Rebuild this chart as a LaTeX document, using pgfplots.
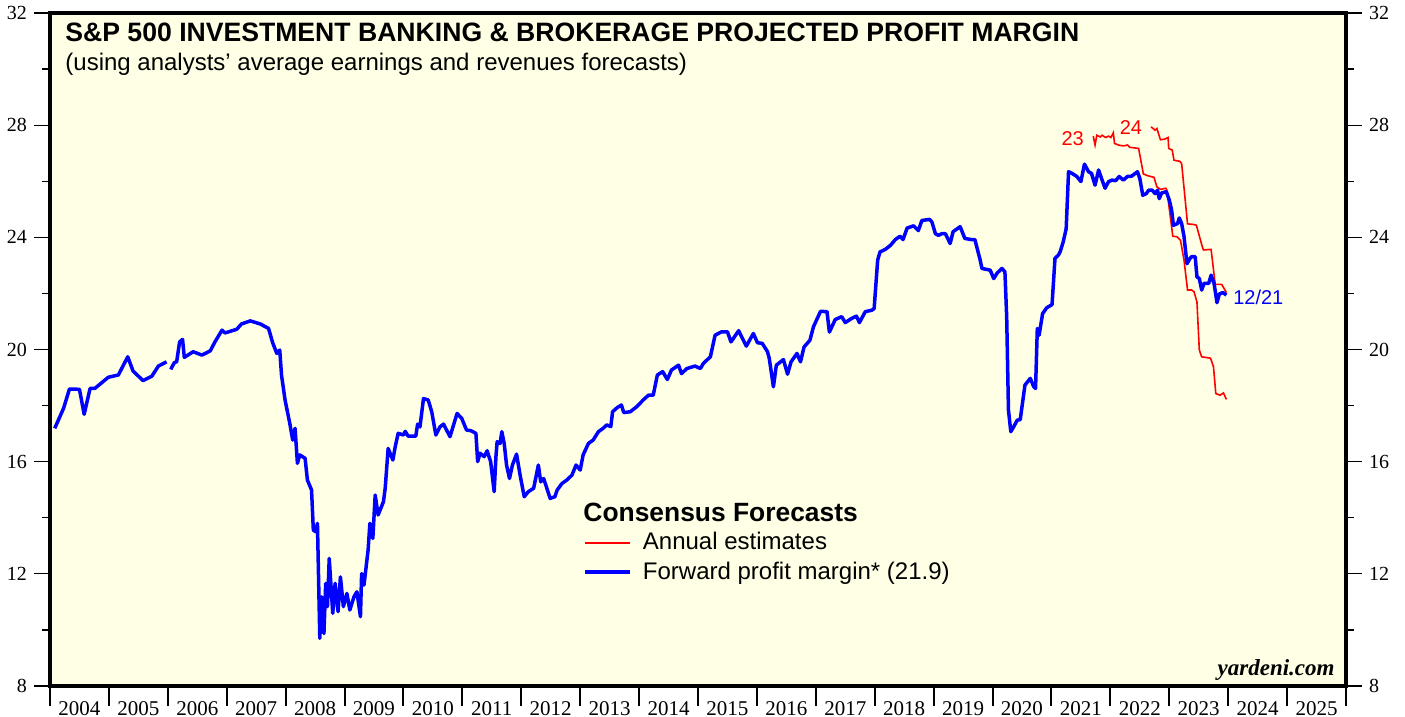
\documentclass[border=0pt]{standalone}
\usepackage{fontspec}
\setmainfont{Liberation Sans}
\newfontfamily\serif{Liberation Serif}
\usepackage{pgfplots}
\pgfplotsset{compat=1.18}
\definecolor{bgyellow}{RGB}{255,255,229}
\definecolor{fwdblue}{RGB}{0,0,255}
\definecolor{annred}{RGB}{255,0,0}

\pgfplotsset{
  frame/.style={
    scale only axis, width=648pt, height=336.5pt,
    at={(0,0)}, anchor=south west,
    xmin=2004, xmax=2026, ymin=8, ymax=32,
    axis line style={line width=1.6pt, black},
  },
  side/.style={
    frame, hide x axis,
    ytick={8,12,...,32}, minor y tick num=1,
    tick align=outside,
    major tick length=8pt, minor tick length=4pt,
    tick style={line width=0.6pt, black},
    /pgf/number format/assume math mode=true,
    yticklabel style={font=\fontsize{10}{12}\selectfont\serif},
  },
}

\begin{document}
\begin{tikzpicture}
\path[use as bounding box] (-25pt,-15.5pt) rectangle (677.5pt,343pt);

\begin{axis}[frame,
  axis background/.style={fill=bgyellow},
  ytick=\empty,
  xtick={2004,2005,...,2026},
  x tick label as interval,
  xticklabels={2004,2005,2006,2007,2008,2009,2010,2011,2012,2013,2014,2015,2016,2017,2018,2019,2020,2021,2022,2023,2024,2025},
  xtick pos=bottom, tick align=outside,
  major tick length=10pt,
  xtick style={line width=1pt, black},
  xticklabel style={font=\fontsize{10.5}{12}\selectfont\serif, yshift=6pt},
  legend style={at={(rel axis cs:0.4113,0.2345)}, anchor=north west,
    draw=none, fill=none, inner sep=0pt,
    font=\fontsize{12}{14}\selectfont, row sep=0.5pt, column sep=3.5pt,
    nodes={inner sep=2pt}},
  legend cell align=left,
  legend image code/.code={\draw[#1] (0pt,0pt) -- (22.5pt,0pt);},
]

% forward profit margin, 2004-2005 (before the break)
\addplot[fwdblue, line width=1.75pt, line join=round, forget plot] coordinates {
(2004.08,17.19) (2004.23,17.90) (2004.33,18.59) (2004.50,18.58) (2004.58,17.69)
(2004.68,18.61) (2004.76,18.61) (2004.99,19.01) (2005.16,19.09) (2005.32,19.74)
(2005.41,19.23) (2005.58,18.89) (2005.73,19.05) (2005.84,19.41) (2005.98,19.56)};

% annual estimates 2023
\addplot[annred, line width=0.8pt] coordinates {
(2021.71,27.61) (2021.74,27.29) (2021.77,27.64) (2021.83,27.58) (2021.86,27.64)
(2021.92,27.56) (2021.97,27.61) (2022.01,27.56) (2022.05,27.73) (2022.07,27.35)
(2022.14,27.29) (2022.22,27.26) (2022.29,27.29) (2022.33,27.21) (2022.48,27.17)
(2022.56,26.26) (2022.63,26.20) (2022.74,26.14) (2022.79,25.80) (2022.85,25.71)
(2022.94,25.75) (2022.96,25.68) (2023.06,24.04) (2023.13,24.02) (2023.19,23.90)
(2023.25,23.19) (2023.31,22.12) (2023.38,22.12) (2023.42,22.06) (2023.47,21.69)
(2023.51,19.98) (2023.55,19.74) (2023.70,19.69) (2023.75,19.39) (2023.79,18.43)
(2023.86,18.37) (2023.92,18.45) (2023.97,18.22)};
\addlegendentry{Annual estimates}

% annual estimates 2024
\addplot[annred, line width=0.8pt, forget plot] coordinates {
(2022.69,27.94) (2022.76,27.82) (2022.79,27.88) (2022.85,27.48) (2022.92,27.50)
(2022.98,27.56) (2022.99,27.17) (2023.05,27.11) (2023.08,26.75) (2023.18,26.71)
(2023.21,26.63) (2023.31,24.48) (2023.41,24.46) (2023.46,24.43) (2023.56,23.67)
(2023.58,23.55) (2023.71,23.57) (2023.78,22.32) (2023.89,22.32) (2023.97,22.03)};

% forward profit margin, 2006 onwards
\addplot[fwdblue, line width=1.75pt, line join=round] coordinates {
(2006.05,19.29) (2006.11,19.53) (2006.15,19.56) (2006.20,20.27) (2006.25,20.36)
(2006.28,19.72) (2006.43,19.92) (2006.58,19.80) (2006.72,19.95) (2006.80,20.27)
(2006.92,20.69) (2006.97,20.59) (2007.17,20.72) (2007.25,20.91) (2007.40,21.02)
(2007.57,20.91) (2007.71,20.75) (2007.78,20.24) (2007.85,19.86) (2007.90,19.98)
(2007.93,19.09) (2007.99,18.20) (2008.07,17.37) (2008.12,16.77) (2008.16,17.19)
(2008.20,15.94) (2008.24,16.24) (2008.33,16.12) (2008.37,15.34) (2008.44,14.99)
(2008.47,13.56) (2008.51,13.50) (2008.54,13.80) (2008.58,9.70) (2008.61,11.18)
(2008.65,9.87) (2008.68,11.66) (2008.71,10.83) (2008.74,12.55) (2008.80,10.59)
(2008.84,11.66) (2008.89,10.65) (2008.93,11.89) (2008.98,10.83) (2009.04,11.30)
(2009.09,10.71) (2009.16,11.18) (2009.21,11.36) (2009.27,10.47) (2009.29,12.01)
(2009.33,11.60) (2009.40,12.85) (2009.43,13.80) (2009.48,13.26) (2009.52,14.81)
(2009.57,14.10) (2009.66,14.57) (2009.69,15.05) (2009.74,16.47) (2009.82,16.06)
(2009.86,16.53) (2009.91,17.01) (2010.00,16.95) (2010.03,17.08) (2010.08,16.91)
(2010.21,16.91) (2010.24,17.34) (2010.28,17.24) (2010.34,18.25) (2010.42,18.20)
(2010.48,17.78) (2010.55,16.95) (2010.62,17.24) (2010.68,17.34) (2010.79,16.89)
(2010.91,17.72) (2010.99,17.54) (2011.07,17.13) (2011.15,17.10) (2011.23,17.01)
(2011.26,16.00) (2011.30,16.30) (2011.37,16.18) (2011.42,16.39) (2011.48,16.00)
(2011.54,14.93) (2011.57,16.18) (2011.59,16.71) (2011.64,16.65) (2011.67,17.07)
(2011.71,16.65) (2011.75,15.88) (2011.80,15.40) (2011.85,15.88) (2011.92,16.27)
(2011.98,15.52) (2012.05,14.75) (2012.12,14.93) (2012.21,15.05) (2012.29,15.88)
(2012.33,15.28) (2012.38,15.40) (2012.49,14.69) (2012.57,14.75) (2012.61,14.99)
(2012.69,15.22) (2012.77,15.34) (2012.86,15.52) (2012.93,15.88) (2013.00,15.70)
(2013.05,16.24) (2013.14,16.65) (2013.22,16.77) (2013.31,17.07) (2013.39,17.19)
(2013.45,17.31) (2013.52,17.25) (2013.55,17.78) (2013.63,17.93) (2013.70,18.02)
(2013.74,17.75) (2013.85,17.78) (2013.96,17.96) (2014.07,18.20) (2014.16,18.37)
(2014.24,18.37) (2014.31,19.09) (2014.40,19.21) (2014.48,18.93) (2014.55,19.27)
(2014.67,19.44) (2014.72,19.14) (2014.81,19.32) (2014.95,19.41) (2015.04,19.32)
(2015.09,19.50) (2015.21,19.74) (2015.29,20.51) (2015.40,20.63) (2015.50,20.63)
(2015.56,20.27) (2015.69,20.67) (2015.82,20.12) (2015.94,20.57) (2016.01,20.24)
(2016.09,20.22) (2016.18,19.92) (2016.21,19.68) (2016.28,18.67) (2016.33,19.44)
(2016.45,19.64) (2016.52,19.12) (2016.58,19.56) (2016.68,19.86) (2016.74,19.56)
(2016.80,20.09) (2016.90,20.33) (2016.96,20.81) (2017.08,21.36) (2017.19,21.35)
(2017.23,20.62) (2017.33,21.07) (2017.44,21.17) (2017.50,20.96) (2017.61,21.11)
(2017.69,21.19) (2017.74,20.96) (2017.84,21.35) (2017.95,21.40) (2017.99,21.46)
(2018.05,23.19) (2018.09,23.48) (2018.18,23.57) (2018.27,23.72) (2018.35,23.92)
(2018.43,24.04) (2018.48,23.92) (2018.55,24.33) (2018.66,24.41) (2018.74,24.24)
(2018.80,24.60) (2018.93,24.64) (2018.97,24.55) (2019.03,24.13) (2019.08,24.07)
(2019.14,24.13) (2019.20,24.13) (2019.28,23.78) (2019.33,24.20) (2019.45,24.38)
(2019.53,23.96) (2019.64,23.92) (2019.70,23.92) (2019.79,23.19) (2019.82,22.89)
(2019.96,22.83) (2020.02,22.53) (2020.08,22.73) (2020.16,22.89) (2020.21,22.77)
(2020.24,21.17) (2020.27,17.84) (2020.31,17.07) (2020.36,17.25) (2020.42,17.48)
(2020.47,17.50) (2020.55,18.73) (2020.64,18.97) (2020.70,18.67) (2020.73,18.61)
(2020.76,20.75) (2020.79,20.51) (2020.85,21.28) (2020.92,21.49) (2021.01,21.60)
(2021.06,23.25) (2021.12,23.37) (2021.15,23.50) (2021.20,23.84) (2021.25,24.31)
(2021.29,26.34) (2021.35,26.28) (2021.43,26.17) (2021.50,25.99) (2021.56,26.61)
(2021.63,26.34) (2021.68,26.28) (2021.74,25.86) (2021.80,26.40) (2021.86,26.04)
(2021.91,25.75) (2021.97,25.99) (2022.03,26.04) (2022.09,26.02) (2022.15,26.17)
(2022.22,26.04) (2022.29,26.17) (2022.36,26.18) (2022.46,26.34) (2022.50,26.10)
(2022.55,25.50) (2022.61,25.56) (2022.65,25.68) (2022.71,25.68) (2022.76,25.56)
(2022.80,25.68) (2022.83,25.38) (2022.87,25.58) (2022.95,25.63) (2023.00,25.33)
(2023.04,24.97) (2023.07,24.43) (2023.14,24.49) (2023.17,24.69) (2023.21,24.49)
(2023.25,24.03) (2023.30,23.06) (2023.35,23.24) (2023.38,23.31) (2023.44,23.31)
(2023.47,22.59) (2023.51,22.53) (2023.55,22.12) (2023.59,22.36) (2023.67,22.36)
(2023.71,22.65) (2023.76,22.36) (2023.81,21.67) (2023.85,21.98) (2023.91,22.03)
(2023.97,21.94)};
\addlegendentry{Forward profit margin* (21.9)}

% titles and labels
\node[anchor=base west, inner sep=0pt, font=\fontsize{13.3}{15}\selectfont\bfseries]
  at (rel axis cs:0.0116,0.958) {S\&P 500 INVESTMENT BANKING \& BROKERAGE PROJECTED PROFIT MARGIN};
\node[anchor=base west, inner sep=0pt, font=\fontsize{12}{14}\selectfont]
  at (rel axis cs:0.0116,0.915) {(using analysts’ average earnings and revenues forecasts)};
\node[anchor=base west, inner sep=0pt, font=\fontsize{13.2}{15}\selectfont\bfseries]
  at (rel axis cs:0.4113,0.2437) {Consensus Forecasts};
\node[anchor=base east, inner sep=0pt, font=\fontsize{11.5}{13}\selectfont\serif\bfseries\itshape]
  at (rel axis cs:0.9915,0.0149) {yardeni.com};
\node[font=\fontsize{10}{12}\selectfont, text=annred, inner sep=0pt] at (axis cs:2021.36,27.51) {23};
\node[font=\fontsize{10}{12}\selectfont, text=annred, inner sep=0pt] at (axis cs:2022.35,27.90) {24};
\node[anchor=west, font=\fontsize{10}{12}\selectfont, text=fwdblue, inner sep=0pt] at (axis cs:2024.08,21.87) {12/21};
\end{axis}

% left and right value scales
\begin{axis}[side, ytick pos=left]
\end{axis}
\begin{axis}[side, ytick pos=right, yticklabel pos=right]
\end{axis}
\end{tikzpicture}
\end{document}
